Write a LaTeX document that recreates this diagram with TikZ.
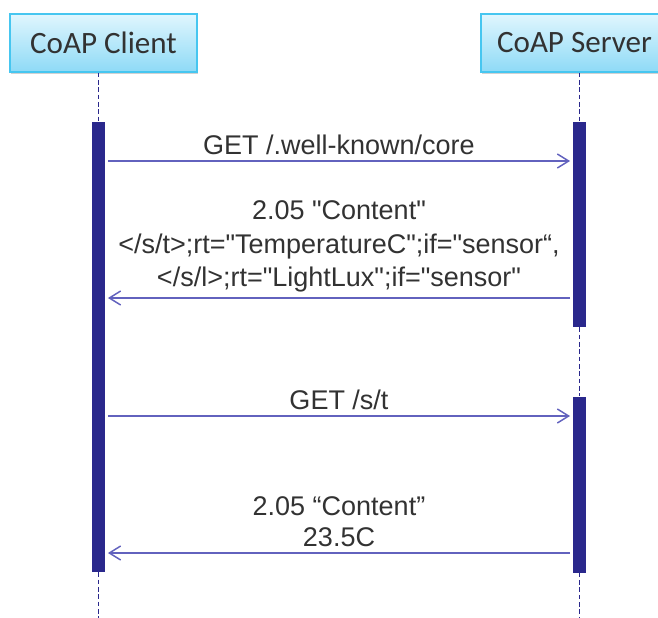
\documentclass[tikz,border=0pt]{standalone}
\usepackage{fontspec}
\setmainfont{Liberation Sans}
\newfontfamily\boxfont{Carlito}
\usetikzlibrary{positioning,calc,arrows.meta,shadows}

\definecolor{barblue}{RGB}{42,40,140}
\definecolor{msgblue}{RGB}{98,98,190}
\definecolor{boxedge}{RGB}{70,198,240}
\definecolor{boxtop}{RGB}{224,246,254}
\definecolor{boxbottom}{RGB}{142,218,246}
\definecolor{textgray}{RGB}{50,50,50}

\newcommand{\dq}{\textquotedbl}

\begin{document}
\begin{tikzpicture}[x=0.75pt, y=-0.75pt,
    actor/.style={draw=boxedge, line width=0.8pt, top color=boxtop, bottom color=boxbottom,
        minimum width=140.25pt, minimum height=43.5pt, inner sep=0pt,
        text=textgray, font=\boxfont\fontsize{23.3}{28}\selectfont,
        drop shadow={shadow xshift=0.8pt, shadow yshift=-1.2pt, opacity=0.3, fill=black!60}},
    activation/.style={fill=barblue, draw=none, minimum width=9.75pt, inner sep=0pt},
    lifeline/.style={draw=barblue, line width=0.8pt, dash pattern=on 3.5pt off 2pt},
    msg/.style={draw=msgblue, line width=1.1pt, -{Straight Barb[length=8.5pt, width=10.5pt]},
        shorten <=2pt, shorten >=2pt},
    msglabel/.style={above=4pt, inner sep=0pt, align=center, text=textgray,
        font=\fontsize{20.25}{25}\selectfont}
]
    \useasboundingbox (0,0) rectangle (658,618);

    % participants
    \node [actor] (client) at (103.5,43) {CoAP Client};
    \node [actor] (server) at (574.5,43) {CoAP Server};

    % activation bars
    \node [activation, minimum height=337.5pt] (cbar) at (98.5,347) {};
    \node [activation, minimum height=153.75pt] (sbarA) at (579.5,224.5) {};
    \node [activation, minimum height=132pt] (sbarB) at (579.5,484.5) {};

    % lifelines
    \coordinate (bottom) at (0,618);
    \draw [lifeline] (client.south -| cbar) -- (cbar.north);
    \draw [lifeline] (cbar.south) -- (bottom -| cbar);
    \draw [lifeline] (server.south -| sbarA) -- (sbarA.north);
    \draw [lifeline] (sbarA.south) -- (sbarB.north);
    \draw [lifeline] (sbarB.south) -- (bottom -| sbarB);

    % message rows
    \coordinate (r1) at (0,161);
    \coordinate (r2) at (0,298);
    \coordinate (r3) at (0,416);
    \coordinate (r4) at (0,553);

    \draw [msg] (cbar.east |- r1) -- node [msglabel] (getcore) {GET /.well-known/core} (sbarA.west |- r1);
    \draw [msg] (sbarA.west |- r2) -- node [msglabel] (linkfmt)
        {2.05 \dq Content\dq\\</s/t>;rt=\dq TemperatureC\dq;if=\dq sensor“,\\</s/l>;rt=\dq LightLux\dq;if=\dq sensor\dq} (cbar.east |- r2);
    \draw [msg] (cbar.east |- r3) -- node [msglabel] (gettemp) {GET /s/t} (sbarB.west |- r3);
    \draw [msg] (sbarB.west |- r4) -- node [msglabel, font=\fontsize{20.25}{23.5}\selectfont] (tempval)
        {2.05 “Content”\\23.5C} (cbar.east |- r4);
\end{tikzpicture}
\end{document}
